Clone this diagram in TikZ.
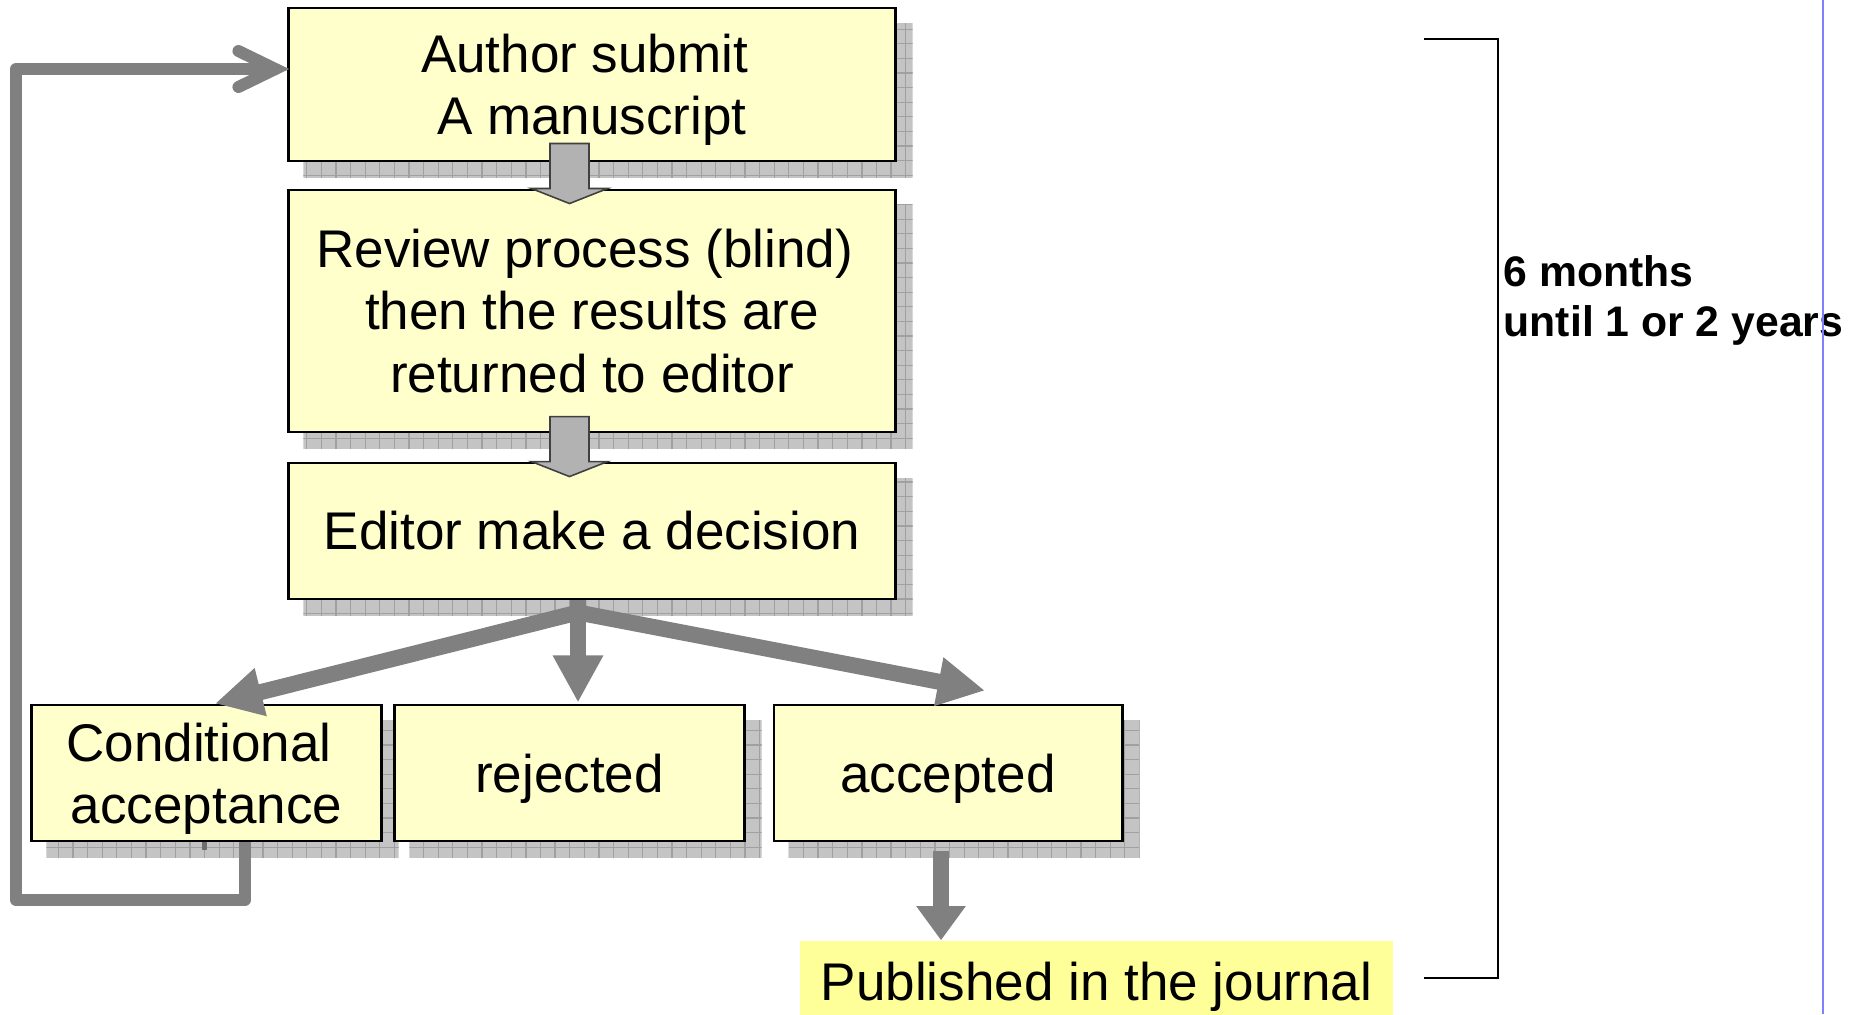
\documentclass[tikz,border=0pt]{standalone}
\usepackage{fontspec}
\setmainfont{Liberation Sans}
\usetikzlibrary{arrows.meta,calc,backgrounds}
\definecolor{boxyellow}{HTML}{FFFFCC}
\definecolor{pubyellow}{HTML}{FFFF99}
\definecolor{arrgray}{HTML}{808080}
\definecolor{blkgray}{HTML}{B2B2B2}
\definecolor{blkedge}{HTML}{404040}
\definecolor{shadowgray}{HTML}{C4C4C4}
\definecolor{gridgray}{HTML}{A0A0A0}
\definecolor{blueline}{HTML}{8080FF}
\newcommand\boxfont{\fontsize{15.08pt}{17.64pt}\selectfont}
\newcommand\durfont{\fontsize{12.15pt}{13.94pt}\selectfont\bfseries}
\newcommand\nodp[1]{\raisebox{0pt}[\height][0pt]{#1}}
\newcommand\trsp{\hspace*{0.278em}}
\newcommand\boxshadow[1]{%
  \begin{scope}
    \clip ($(#1.south west)+(16,16)$) rectangle ($(#1.north east)+(16,16)$);
    \fill[shadowgray] ($(#1.south west)+(16,16)$) rectangle ($(#1.north east)+(16,16)$);
    \draw[gridgray, line width=0.35pt, step=0.146cm] ($(#1.south west)+(16,16)$) grid ($(#1.north east)+(16,16)$);
  \end{scope}}
\tikzset{
  flowbox/.style={draw=black, line width=0.8pt, fill=boxyellow, align=center, inner sep=0pt, font=\boxfont},
  blk/.style={fill=blkgray, draw=blkedge, line width=0.45pt, line join=miter},
  branch/.style={draw=arrgray, line width=4.55pt, line join=miter},
  loopline/.style={draw=arrgray, line width=3.4pt, line join=round},
  pics/blockarrow/.style={code={
    \draw[blk] (-19.5,-60) -- (19.5,-60) -- (19.5,-15) -- (38,-15) -- (0,0) -- (-38,-15) -- (-19.5,-15) -- cycle;}}
}
\begin{document}
\begin{tikzpicture}[x=0.01cm, y=-0.01cm]
\useasboundingbox (0,0) rectangle (1867,1014);
\begin{pgfonlayer}{background}
\fill[white] (0,0) rectangle (1867,1014);
\end{pgfonlayer}
\clip (0,0) rectangle (1867,1014);

% boxes
\node[flowbox, minimum width=6.06cm, minimum height=1.53cm] (author) at (592,84.5) {Author submit\trsp\\ \nodp{A manuscript}};
\node[flowbox, minimum width=6.06cm, minimum height=2.42cm] (review) at (592,311) {Review process (blind)\trsp\\then the results are\trsp\\ returned to editor};
\node[flowbox, minimum width=6.06cm, minimum height=1.36cm] (editor) at (592,531) {Editor make a decision};
\node[flowbox, minimum width=3.49cm, minimum height=1.36cm] (cond) at (206.5,773) {Conditional\trsp\\\nodp{acceptance}};
\node[flowbox, minimum width=3.49cm, minimum height=1.36cm] (rej) at (569.5,773) {\nodp{rejected}};
\node[flowbox, minimum width=3.48cm, minimum height=1.36cm] (acc) at (948,773) {\nodp{accepted}};
\node[fill=pubyellow, inner sep=0pt, minimum width=5.93cm, minimum height=0.8cm, font=\boxfont] (pub) at (1096.5,981) {\nodp{Published in the journal}};

% shadows
\begin{pgfonlayer}{background}
\boxshadow{author}
\boxshadow{review}
\boxshadow{editor}
\boxshadow{cond}
\boxshadow{rej}
\boxshadow{acc}
\end{pgfonlayer}

% block arrows between the top boxes
\pic at ($(review.north)+(-22.5,15)$) {blockarrow};
\pic at ($(editor.north)+(-22.5,15)$) {blockarrow};

% decision branches
\coordinate (stemtop) at ($(editor.south)+(-14,0)$);
\coordinate (junction) at ($(stemtop)+(0,12)$);
\draw[branch, -{Triangle[length=13.4pt,width=13.1pt]}] (stemtop) -- (junction) -- ($(cond.north)+(8.5,0)$);
\draw[branch, -{Triangle[length=13.4pt,width=13.4pt]}] (stemtop) -- ($(rej.north)+(8.5,-1)$);
\draw[branch, -{Triangle[length=13.4pt,width=13.1pt]}] (stemtop) -- (junction) -- ($(acc.north)+(37,-13)$);

% accepted -> published
\coordinate (accout) at ($(acc.south)+(-7,9)$);
\draw[branch, -{Triangle[length=9.7pt,width=13.4pt]}] (accout) -- (accout |- pub.north);

% feedback loop
\coordinate (condout) at ($(cond.south)+(38.5,0)$);
\coordinate (loopin) at ($(author.west)+(-12,-15.5)$);
\draw[loopline] (condout) |- (16,900) |- (loopin);
\draw[loopline, line cap=round, line join=miter] ($(loopin)+(-37,-18)$) -- (loopin) -- ($(loopin)+(-37,18)$);
\fill[arrgray!85!black] (202,842) rectangle (207,850);

% duration bracket
\coordinate (brtop) at (1424,39);
\coordinate (brbot) at (1424,978);
\draw[line width=0.6pt] (brtop) -- (1498,39) -- (1498,978) -- (brbot);
\node[anchor=west, align=left, inner sep=0pt, font=\durfont] (dur) at (1503,296) {6 months\\\nodp{until 1 or 2 years}};

% blue margin line
\coordinate (bltop) at (1823,0);
\coordinate (blbot) at (1823,1014);
\draw[blueline, line width=0.6pt] (bltop) -- (blbot);
\end{tikzpicture}
\end{document}
